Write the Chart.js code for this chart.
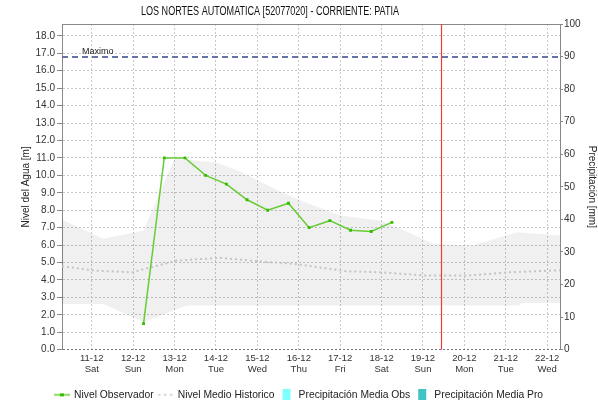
<!DOCTYPE html>
<html>
<head>
<meta charset="utf-8">
<script src="https://cdn.jsdelivr.net/npm/chart.js@4"></script>
<style>
  html,body{margin:0;padding:0;background:#fff;}
  #wrap{width:598px;height:404px;}
</style>
</head>
<body>
<div id="wrap"><canvas id="c" width="598" height="404"></canvas></div>
<script>
// ---- Data (x = days after 11-12 00:00) ----
const TITLE = 'LOS NORTES AUTOMATICA [52077020] - CORRIENTE: PATIA';
const dateLabels = ['11-12','12-12','13-12','14-12','15-12','16-12','17-12','18-12','19-12','20-12','21-12','22-12'];
const dayLabels  = ['Sat','Sun','Mon','Tue','Wed','Thu','Fri','Sat','Sun','Mon','Tue','Wed'];

const obsX = [1.25,1.75,2.25,2.75,3.25,3.75,4.25,4.75,5.25,5.75,6.25,6.75,7.25];
const obsY = [1.5,11.0,11.0,10.0,9.5,8.6,8.0,8.4,7.0,7.4,6.85,6.78,7.3];

const histX    = [-0.72,0.04,0.97,2.05,3.1,4.07,4.87,6.16,6.96,8.09,9.06,10.1,11.14,11.31];
const histMean = [4.79,4.54,4.44,5.11,5.27,5.06,4.93,4.5,4.44,4.25,4.25,4.44,4.54,4.55];

const bandUpX = [-0.72,0.28,1.25,2.0,3.0,3.6,4.4,5.0,6.0,7.0,7.5,8.25,9.2,10.27,11.31];
const bandUp  = [7.45,6.36,6.84,10.95,10.75,10.2,9.25,8.6,7.7,7.4,6.9,6.07,5.98,6.74,6.55];
const bandLoX = [-0.72,0.28,1.25,2.3,10.3,10.4,11.31];
const bandLo  = [2.62,2.62,1.57,2.53,2.53,2.68,2.68];

const precipObs = [];
const precipPro = [];

const MAXIMO = 16.8;
const NOW_DAY = 8.44;
const X_MIN = -0.72, X_MAX = 11.31;
const Y_MAX = 18.68, Y2_MAX = 100;

const pts = (xs, ys) => xs.map((x, i) => ({x: x, y: ys[i]}));

// legend icons
function icon(draw){
  const c = document.createElement('canvas'); c.width = 16; c.height = 11;
  const g = c.getContext('2d'); draw(g); return c;
}
const icoObs = icon(g => { g.strokeStyle='#66cc33'; g.lineWidth=1.5; g.beginPath(); g.moveTo(0,5.5); g.lineTo(16,5.5); g.stroke(); g.fillStyle='#33bb00'; g.fillRect(6,4,4,3); });
const icoHist = icon(g => { g.strokeStyle='#cccccc'; g.lineWidth=1.5; g.setLineDash([3,3]); g.beginPath(); g.moveTo(0,5.5); g.lineTo(16,5.5); g.stroke(); });
const icoPObs = icon(g => { g.fillStyle='#80ffff'; g.fillRect(4,0,8,11); });
const icoPPro = icon(g => { g.fillStyle='#40c4c4'; g.fillRect(4,0,8,11); });

const FONT = "'Liberation Sans', Arial, sans-serif";
Chart.defaults.font.family = FONT;
Chart.defaults.color = '#333';

const overlay = {
  id: 'overlay',
  afterDraw(chart){
    const {ctx, chartArea: a, scales} = chart;
    ctx.save();
    // top frame
    ctx.strokeStyle = '#888'; ctx.lineWidth = 1; ctx.setLineDash([]);
    ctx.beginPath(); ctx.moveTo(a.left, a.top + 0.5); ctx.lineTo(a.right, a.top + 0.5); ctx.stroke();
    // Maximo line
    const ym = Math.round(scales.y.getPixelForValue(MAXIMO));
    ctx.strokeStyle = '#6674a8'; ctx.lineWidth = 2; ctx.setLineDash([6,4]);
    ctx.beginPath(); ctx.moveTo(a.left, ym); ctx.lineTo(a.right, ym); ctx.stroke();
    ctx.setLineDash([]);
    ctx.fillStyle = '#222'; ctx.font = '9px ' + FONT; ctx.textBaseline = 'alphabetic'; ctx.textAlign = 'left';
    ctx.fillText('Maximo', a.left + 20, ym - 3);
    // now line
    const xn = Math.round(scales.x.getPixelForValue(NOW_DAY)) + 0.5;
    ctx.strokeStyle = 'rgb(235,60,60)'; ctx.lineWidth = 1.2;
    ctx.beginPath(); ctx.moveTo(xn, a.top); ctx.lineTo(xn, a.bottom); ctx.stroke();
    // title
    ctx.fillStyle = '#111'; ctx.font = '12px ' + FONT; ctx.textAlign = 'center'; ctx.textBaseline = 'middle';
    ctx.fillText(TITLE, 270, 12, 258);
    ctx.restore();
  }
};

new Chart(document.getElementById('c'), {
  data: {
    datasets: [
      { type: 'line', label: 'Nivel Observador', data: pts(obsX, obsY), borderColor: '#66cc33', backgroundColor: '#33bb00',
        borderWidth: 1.5, pointRadius: 2, pointBorderWidth: 0, pointBackgroundColor: '#33bb00', pointStyle: 'rect', tension: 0, yAxisID: 'y', order: 0 },
      { type: 'line', label: 'Nivel Medio Historico', data: pts(histX, histMean), borderColor: '#c4c4c4', borderWidth: 2,
        borderDash: [2,3], pointRadius: 0, tension: 0, yAxisID: 'y', order: 1 },
      { type: 'bar', label: 'Precipitación Media Obs', data: precipObs, backgroundColor: '#80ffff', yAxisID: 'y2' },
      { type: 'bar', label: 'Precipitación Media Pro', data: precipPro, backgroundColor: '#40c4c4', yAxisID: 'y2' },
      { type: 'line', label: 'bandUp', data: pts(bandUpX, bandUp), borderWidth: 0, pointRadius: 0, tension: 0,
        fill: '+1', backgroundColor: 'rgba(0,0,0,0.06)', borderColor: 'rgba(0,0,0,0)', yAxisID: 'y', order: 5 },
      { type: 'line', label: 'bandLo', data: pts(bandLoX, bandLo), borderWidth: 0, pointRadius: 0, tension: 0,
        fill: false, borderColor: 'rgba(0,0,0,0)', yAxisID: 'y', order: 6 }
    ]
  },
  options: {
    responsive: false,
    animation: false,
    events: [],
    layout: { padding: { top: 24, left: 0, right: 0, bottom: -6 } },
    plugins: {
      title: { display: false },
      tooltip: { enabled: false },
      legend: {
        position: 'bottom',
        labels: {
          font: { size: 10.3, family: FONT }, color: '#222', padding: 5,
          usePointStyle: true, pointStyleWidth: 14, boxHeight: 11,
          generateLabels(chart){
            const icons = [icoObs, icoHist, icoPObs, icoPPro];
            return chart.data.datasets.slice(0,4).map((d, i) => ({
              text: d.label, pointStyle: icons[i], fillStyle: 'transparent', strokeStyle: 'transparent',
              lineWidth: 0, hidden: false, datasetIndex: i, fontColor: '#222'
            }));
          }
        }
      }
    },
    scales: {
      x: {
        type: 'linear', min: X_MIN, max: X_MAX, offset: false,
        afterFit(s){ s.height = 35; },
        ticks: { stepSize: 1, includeBounds: false, autoSkip: false, maxRotation: 0, padding: 3,
          font: { size: 9.5, family: FONT }, color: '#333',
          callback(v){ const i = Math.round(v); if (Math.abs(v - i) > 1e-6 || i < 0 || i >= dateLabels.length) return ''; return [dateLabels[i], dayLabels[i]]; } },
        grid: { color: '#c8c8c8', lineWidth: 1, drawTicks: false, offset: false },
        border: { display: false, dash: [2,2] }
      },
      y: {
        type: 'linear', position: 'left', min: 0, max: Y_MAX,
        afterFit(s){ s.width = 62; },
        title: { display: true, text: 'Nivel del Agua [m]', font: { size: 10, family: FONT }, color: '#222', padding: { top: 20, bottom: 0 } },
        ticks: { stepSize: 1, includeBounds: false, padding: 2, font: { size: 10, family: FONT }, color: '#333',
          callback(v){ return Number(v).toFixed(1); } },
        grid: { color: (ctx) => (ctx.tick && ctx.tick.value === 0) ? '#777' : '#c8c8c8', lineWidth: 1, tickLength: 5, tickColor: '#888', tickBorderDash: [] },
        border: { display: true, color: '#888', dash: [2,2] }
      },
      y2: {
        type: 'linear', position: 'right', min: 0, max: Y2_MAX,
        afterFit(s){ s.width = 38; },
        title: { display: true, text: 'Precipitación [mm]', font: { size: 10, family: FONT }, color: '#222', padding: { top: 0, bottom: 0 } },
        ticks: { stepSize: 10, padding: 1, font: { size: 10, family: FONT }, color: '#333' },
        grid: { drawOnChartArea: false, tickLength: 3, tickColor: '#888' },
        border: { display: true, color: '#888' }
      }
    }
  },
  plugins: [overlay]
});
</script>
</body>
</html>
